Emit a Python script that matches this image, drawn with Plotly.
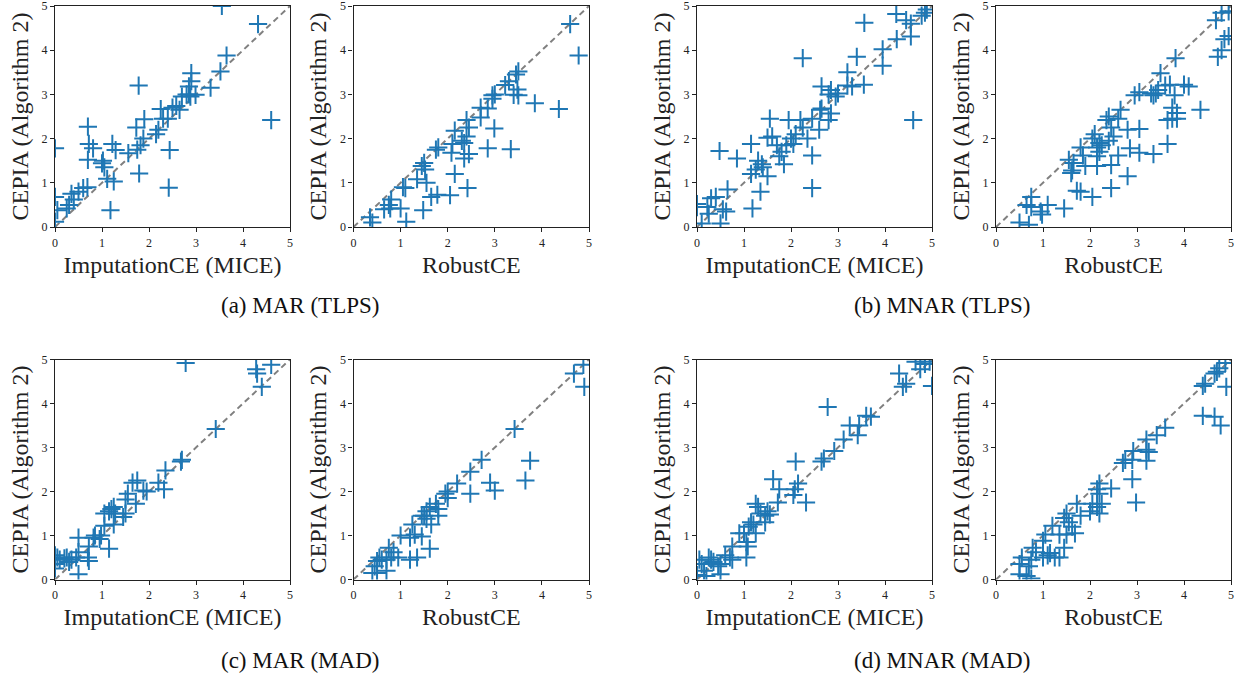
import plotly.graph_objects as go

# ---------------- data ----------------
mar_tlps_mice_x = [3.55, 4.32, 3.65, 3.52, 3.31, 2.9, 2.9, 2.85, 2.99, 2.8, 2.7, 2.58, 2.5, 2.65, 2.25, 2.4, 2.3, 1.9, 2.2, 2.15,
                   1.78, 1.73, 1.88, 1.82, 1.75, 1.56, 2.44, 1.79, 2.42, 4.6, 0.70, 0.72, 0.81, 0.7, 1.22, 1.29, 1.0, 1.05, 1.02, 1.11,
                   1.25, 1.18, 0.69, 0.6, 0.5, 0.35, 0.4, 0.3, 0.25, 0.05, 0.0, 0.0, 0.0, 2.88, 2.85]
mar_tlps_mice_y = [5.0, 4.59, 3.88, 3.52, 3.15, 3.48, 3.30, 3.18, 2.99, 3.0, 2.95, 2.74, 2.7, 2.65, 2.67, 2.45, 2.45, 2.44, 2.2, 2.1,
                   3.2, 2.25, 2.0, 1.85, 1.75, 1.67, 1.74, 1.21, 0.89, 2.42, 2.27, 1.88, 1.78, 1.52, 1.88, 1.74, 1.44, 1.35, 1.5, 1.09,
                   1.03, 0.38, 0.9, 0.88, 0.8, 0.75, 0.62, 0.5, 0.42, 0.38, 1.78, 0.68, 0.12, 2.95, 3.0]

mar_tlps_rob_x = [4.6, 4.78, 3.5, 3.45, 3.22, 3.3, 3.48, 3.4, 3.5, 2.95, 2.95, 3.0, 3.85, 4.36, 2.7, 2.85, 2.7, 2.4, 2.45, 2.99,
                  2.15, 2.4, 2.3, 2.35, 2.1, 2.85, 3.34, 1.75, 1.8, 2.08, 2.45, 2.35, 1.5, 1.45, 1.52, 1.35, 1.55, 2.15, 2.42, 1.65,
                  1.78, 2.05, 1.1, 1.05, 1.0, 0.8, 0.75, 0.65, 0.78, 1.48, 1.12, 0.35, 0.4]
mar_tlps_rob_y = [4.59, 3.88, 3.52, 3.45, 3.21, 3.3, 3.11, 2.99, 2.98, 2.98, 2.9, 3.0, 2.8, 2.67, 2.7, 2.68, 2.48, 2.42, 2.25, 2.23,
                  2.18, 2.05, 1.95, 1.9, 1.88, 1.78, 1.76, 1.75, 1.8, 1.68, 1.65, 1.55, 1.45, 1.38, 1.3, 1.08, 1.0, 1.2, 0.88, 0.68,
                  0.73, 0.72, 0.88, 0.9, 0.42, 0.62, 0.5, 0.4, 0.42, 0.38, 0.12, 0.22, 0.1]

mnar_tlps_mice_x = [4.89, 4.85, 4.78, 4.24, 4.45, 4.55, 4.55, 4.25, 3.56, 3.95, 3.95, 3.4, 2.25, 3.2, 3.55, 3.3, 3.2, 2.65, 2.85, 3.0,
                    2.95, 2.8, 2.85, 2.8, 2.65, 2.62, 2.45, 2.6, 2.35, 2.2, 2.25, 1.95, 2.1, 2.0, 2.05, 1.9, 1.8, 1.75, 1.85, 1.7,
                    1.6, 1.55, 1.5, 2.45, 2.45, 4.6, 1.15, 0.85, 0.48, 1.3, 1.38, 1.4, 1.15, 1.25, 1.5, 1.35, 1.18, 0.65, 0.4, 0.3,
                    0.55, 0.62, 0.22, 0.25, 0.1, 0.5, 0.0, 0.0]
mnar_tlps_mice_y = [4.92, 4.85, 4.78, 4.82, 4.68, 4.6, 4.31, 4.25, 4.62, 4.02, 3.65, 3.85, 3.82, 3.5, 3.22, 3.18, 3.2, 3.18, 3.1, 3.02,
                    2.95, 3.0, 2.57, 2.42, 2.68, 2.65, 2.45, 2.2, 2.0, 2.42, 2.25, 2.42, 2.1, 2.0, 1.88, 1.85, 1.7, 1.6, 1.42, 1.85,
                    2.05, 2.45, 2.02, 1.62, 0.88, 2.42, 1.88, 1.55, 1.72, 1.5, 1.42, 1.35, 1.2, 1.3, 1.15, 0.8, 0.42, 0.85, 0.68, 0.65,
                    0.4, 0.35, 0.45, 0.3, 0.08, 0.08, 0.52, 0.45]

mnar_tlps_rob_x = [4.8, 4.68, 4.95, 4.86, 4.95, 4.8, 4.72, 3.82, 3.5, 3.6, 3.7, 4.0, 4.1, 3.45, 3.3, 3.35, 3.4, 3.05, 2.95, 3.8,
                   3.75, 3.85, 3.65, 3.85, 3.75, 4.35, 2.65, 2.6, 2.4, 2.35, 2.45, 3.05, 2.8, 2.5, 2.4, 2.1, 2.05, 2.2, 2.25, 2.15,
                   2.2, 2.15, 2.6, 2.85, 3.05, 3.35, 3.65, 1.8, 1.85, 1.65, 1.55, 1.9, 1.6, 1.62, 2.15, 2.45, 2.8, 2.45, 1.72, 1.8,
                   2.05, 1.45, 1.1, 0.95, 0.98, 0.65, 0.75, 0.75, 0.5, 0.7]
mnar_tlps_rob_y = [4.85, 4.68, 4.88, 4.25, 4.32, 4.0, 3.85, 3.82, 3.48, 3.2, 3.22, 3.22, 3.18, 3.1, 3.02, 2.98, 3.02, 3.05, 2.98, 2.98,
                   2.7, 2.58, 2.42, 2.45, 2.45, 2.65, 2.65, 2.45, 2.5, 2.42, 2.25, 2.22, 2.2, 2.05, 1.95, 2.1, 2.0, 1.9, 1.85, 1.8,
                   1.7, 1.6, 1.62, 1.78, 1.68, 1.65, 1.88, 1.8, 1.62, 1.45, 1.52, 1.38, 1.22, 1.28, 1.38, 1.4, 1.15, 0.88, 0.82, 0.8,
                   0.68, 0.42, 0.5, 0.35, 0.28, 0.5, 0.45, 0.68, 0.1, 0.05]

mar_mad_mice_x = [2.78, 4.28, 4.3, 4.6, 4.4, 3.42, 2.7, 2.68, 2.35, 2.32, 2.2, 1.75, 1.65, 1.95, 1.88, 1.55, 1.5, 1.72, 1.25, 1.2,
                  1.15, 1.05, 1.28, 1.5, 1.45, 1.25, 1.05, 0.98, 0.85, 0.82, 0.95, 1.15, 0.72, 0.7, 0.72, 0.5, 0.5, 0.45, 0.35, 0.25,
                  0.3, 0.2, 0.1, 0.05, 0.0, 0.0, 0.0, 0.5]
mar_mad_mice_y = [4.92, 4.78, 4.68, 4.88, 4.38, 3.42, 2.72, 2.68, 2.48, 2.05, 2.2, 2.25, 2.2, 2.0, 2.02, 1.95, 1.82, 1.72, 1.65, 1.6,
                  1.55, 1.5, 1.5, 1.5, 1.42, 1.25, 1.22, 1.0, 1.0, 0.95, 0.92, 0.7, 0.75, 0.5, 0.42, 0.95, 0.62, 0.5, 0.45, 0.5,
                  0.4, 0.48, 0.45, 0.5, 0.55, 0.25, 0.35, 0.12]

mar_mad_rob_x = [4.88, 4.68, 4.9, 3.42, 2.72, 2.48, 2.2, 2.0, 1.95, 2.0, 2.9, 3.0, 2.48, 3.65, 3.75, 1.75, 1.8, 1.8, 1.62, 1.55,
                 1.5, 1.45, 1.55, 1.65, 1.25, 1.3, 1.2, 1.45, 1.0, 1.62, 1.2, 1.35, 0.95, 0.85, 0.8, 0.75, 0.7, 0.55, 0.5, 0.45,
                 0.7, 0.4, 0.5, 0.6]
mar_mad_rob_y = [4.88, 4.68, 4.38, 3.42, 2.72, 2.45, 2.18, 2.0, 1.95, 1.85, 2.2, 2.02, 1.95, 2.25, 2.7, 1.72, 1.6, 1.45, 1.65, 1.55,
                 1.45, 1.45, 1.38, 1.25, 1.25, 1.02, 0.95, 0.98, 1.0, 0.7, 0.45, 0.5, 0.5, 0.62, 0.5, 0.72, 0.45, 0.5, 0.42, 0.3,
                 0.2, 0.15, 0.15, 0.45]

mnar_mad_mice_x = [4.65, 4.85, 4.75, 4.95, 4.3, 4.38, 4.45, 5.0, 2.78, 3.6, 3.7, 3.45, 3.25, 3.42, 3.12, 2.92, 2.7, 2.65, 2.1, 2.15,
                   2.08, 2.05, 2.32, 1.62, 1.75, 1.72, 1.55, 1.45, 1.5, 1.25, 1.3, 1.35, 1.2, 1.15, 1.25, 1.45, 1.1, 1.0, 0.9, 1.05,
                   1.08, 1.05, 0.75, 0.7, 0.75, 0.6, 0.5, 0.45, 0.5, 0.3, 0.25, 0.35, 0.15, 0.2, 0.1, 0.05, 0.0]
mnar_mad_mice_y = [4.95, 4.9, 4.78, 4.95, 4.68, 4.38, 4.45, 4.4, 3.92, 3.72, 3.7, 3.5, 3.5, 3.28, 3.18, 2.92, 2.75, 2.68, 2.68, 2.18,
                   2.05, 1.92, 1.75, 2.28, 2.05, 1.75, 1.48, 1.45, 1.55, 1.72, 1.65, 1.5, 1.25, 1.3, 1.05, 1.3, 1.2, 1.05, 1.05, 0.85,
                   0.75, 0.5, 0.75, 0.5, 0.45, 0.55, 0.35, 0.3, 0.12, 0.45, 0.5, 0.4, 0.2, 0.08, 0.35, 0.45, 0.1]

mnar_mad_rob_x = [4.88, 4.75, 4.7, 4.65, 4.4, 4.45, 4.9, 4.4, 4.65, 4.78, 3.6, 3.42, 3.2, 3.2, 3.25, 3.2, 2.92, 2.9, 2.75, 2.7,
                  2.9, 2.98, 2.45, 2.2, 2.15, 2.2, 2.25, 2.15, 2.05, 2.0, 2.2, 1.72, 1.8, 1.5, 1.45, 1.55, 1.62, 1.68, 1.5, 1.35,
                  1.2, 1.05, 1.0, 1.45, 1.1, 1.15, 1.25, 1.35, 1.0, 0.85, 0.78, 0.75, 0.7, 0.55, 0.5, 0.5, 0.65, 0.75]
mnar_mad_rob_y = [4.92, 4.8, 4.72, 4.68, 4.4, 4.45, 4.38, 3.72, 3.7, 3.5, 3.45, 3.28, 3.18, 2.95, 2.9, 2.7, 2.92, 2.72, 2.72, 2.65,
                  2.28, 1.75, 2.07, 2.18, 2.05, 1.95, 1.72, 1.65, 1.72, 1.55, 1.5, 1.72, 1.45, 1.5, 1.4, 1.3, 1.2, 1.05, 1.02, 1.02,
                  1.22, 1.02, 0.88, 0.72, 0.55, 0.6, 0.5, 0.5, 0.5, 0.62, 0.72, 0.45, 0.3, 0.5, 0.35, 0.12, 0.08, 0.02]

axis_ticks = [0, 1, 2, 3, 4, 5]
x_titles = ["ImputationCE (MICE)", "RobustCE"]
y_title = "CEPIA (Algorithm 2)"
captions = ["(a) MAR (TLPS)", "(b) MNAR (TLPS)", "(c) MAR (MAD)", "(d) MNAR (MAD)"]

panels = [
    (mar_tlps_mice_x, mar_tlps_mice_y), (mar_tlps_rob_x, mar_tlps_rob_y),
    (mnar_tlps_mice_x, mnar_tlps_mice_y), (mnar_tlps_rob_x, mnar_tlps_rob_y),
    (mar_mad_mice_x, mar_mad_mice_y), (mar_mad_rob_x, mar_mad_rob_y),
    (mnar_mad_mice_x, mnar_mad_mice_y), (mnar_mad_rob_x, mnar_mad_rob_y),
]

# ---------------- layout geometry (pixels) ----------------
W, H = 1244, 673
x_px = [(55, 290), (353.5, 589), (697, 932), (996, 1231)]
y_px = [(6, 227), (359.5, 579.5)]

SERIF = "Liberation Serif"
BLUE = "#1f77b4"

fig = go.Figure()
layout = dict(
    width=W, height=H, margin=dict(l=0, r=0, t=0, b=0),
    paper_bgcolor="white", plot_bgcolor="white", showlegend=False,
    font=dict(family=SERIF, color="#222"),
)

for i, (xs, ys) in enumerate(panels):
    row, col = divmod(i, 4)
    n = i + 1
    xa = "x" if n == 1 else f"x{n}"
    ya = "y" if n == 1 else f"y{n}"
    xl, xr = x_px[col]
    yt, yb = y_px[row]
    # diagonal reference line
    fig.add_trace(go.Scatter(x=[0, 5], y=[0, 5], mode="lines", xaxis=xa, yaxis=ya,
                             line=dict(color="#808080", width=2, dash="6px,4px"),
                             hoverinfo="skip"))
    fig.add_trace(go.Scatter(x=xs, y=ys, mode="markers", xaxis=xa, yaxis=ya,
                             marker=dict(symbol="cross-thin", size=13, color=BLUE,
                                         line=dict(color=BLUE, width=2))))
    axis_common = dict(range=[0, 5], tickvals=axis_ticks, ticks="outside", ticklen=4, tickwidth=1,
                       tickcolor="#222", showline=True, linecolor="#222", linewidth=1.2, mirror=True,
                       showgrid=False, zeroline=False, tickfont=dict(family=SERIF, size=12, color="#222"),
                       ticklabeloverflow="allow", automargin=False)
    layout["xaxis" + ("" if n == 1 else str(n))] = dict(
        axis_common, domain=[xl / W, xr / W], anchor=ya,
        title=dict(text=x_titles[col % 2], font=dict(family=SERIF, size=24, color="#222"), standoff=7))
    layout["yaxis" + ("" if n == 1 else str(n))] = dict(
        axis_common, domain=[1 - yb / H, 1 - yt / H], anchor=xa,
        title=dict(text=y_title, font=dict(family=SERIF, size=24, color="#222"), standoff=6))

caption_pos = [(300, 306), (942, 306), (300, 660), (942, 660)]
annotations = []
for text, (cx, cy) in zip(captions, caption_pos):
    annotations.append(dict(text=text, x=cx / W, y=1 - cy / H, xref="paper", yref="paper",
                            xanchor="center", yanchor="middle", showarrow=False,
                            font=dict(family=SERIF, size=23, color="#111")))
layout["annotations"] = annotations

fig.update_layout(**layout)
fig.write_html("out.html")
